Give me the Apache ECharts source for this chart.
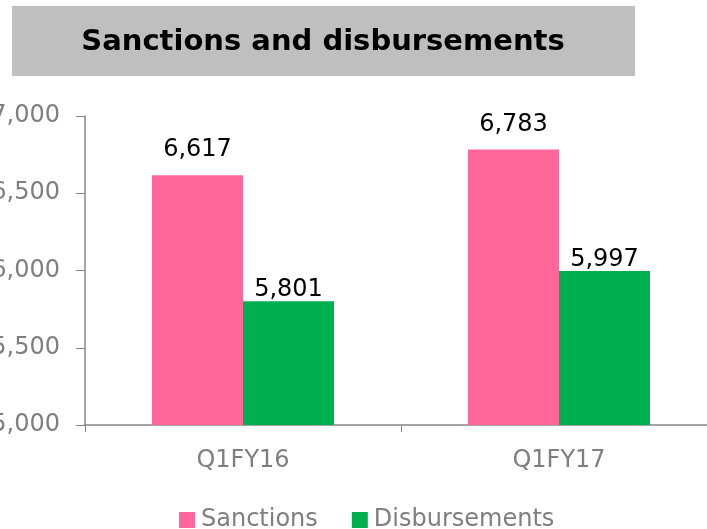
<!DOCTYPE html>
<html><head><meta charset="utf-8">
<script src="https://cdn.jsdelivr.net/npm/echarts@6/dist/echarts.min.js"></script>
<style>html,body{margin:0;padding:0;background:#fff}#c{width:707px;height:529px}</style>
</head><body><div id="c"></div>
<script>
const categories = ['Q1FY16', 'Q1FY17'];
const sanctions = [6617, 6783];
const disbursements = [5801, 5997];
const yTicks = { min: 5000, max: 7000, interval: 500 };

const FONT = 'DejaVu Sans';
const chart = echarts.init(document.getElementById('c'));
chart.setOption({
  animation: false,
  textStyle: { fontFamily: FONT },
  graphic: [
    { type: 'rect', shape: { x: 12, y: 6, width: 623, height: 70 }, style: { fill: '#BFBFBF' } },
    { type: 'text', x: 323, y: 42, style: { text: 'Sanctions and disbursements', font: 'bold 29px "DejaVu Sans"', fill: '#000', align: 'center', verticalAlign: 'middle' } }
  ],
  legend: {
    top: 503, left: 174, itemWidth: 16, itemHeight: 16, itemGap: 34,
    icon: 'rect',
    textStyle: { fontSize: 24, color: '#7F7F7F', fontFamily: FONT, padding: [0, 0, 0, 1] },
    data: ['Sanctions', 'Disbursements']
  },
  grid: { left: 85, right: -10, top: 116, bottom: 104, containLabel: false, outerBoundsMode: 'none' },
  xAxis: {
    type: 'category', data: categories,
    axisLine: { lineStyle: { color: '#868686', width: 1.5 } },
    axisTick: { show: true, length: 7, lineStyle: { color: '#868686' } },
    axisLabel: { fontSize: 24, color: '#7F7F7F', margin: 24, fontFamily: FONT }
  },
  yAxis: {
    type: 'value', min: yTicks.min, max: yTicks.max, interval: yTicks.interval,
    axisLine: { show: true, lineStyle: { color: '#868686', width: 1.5 } },
    axisTick: { show: true, length: 9, lineStyle: { color: '#868686' } },
    splitLine: { show: false },
    axisLabel: { fontSize: 24, color: '#7F7F7F', margin: 25, fontFamily: FONT,
      formatter: v => v.toLocaleString('en-US') }
  },
  series: [
    { name: 'Sanctions', type: 'bar', data: sanctions, barWidth: 91, barGap: '0%',
      itemStyle: { color: '#FF6699' },
      label: { show: true, position: 'top', distance: 13, fontSize: 24, color: '#000', fontFamily: FONT,
        formatter: p => p.value.toLocaleString('en-US') } },
    { name: 'Disbursements', type: 'bar', data: disbursements, barWidth: 91,
      itemStyle: { color: '#00B050' },
      label: { show: true, position: 'top', distance: -1, fontSize: 24, color: '#000', fontFamily: FONT,
        formatter: p => p.value.toLocaleString('en-US') } }
  ]
});
</script></body></html>
